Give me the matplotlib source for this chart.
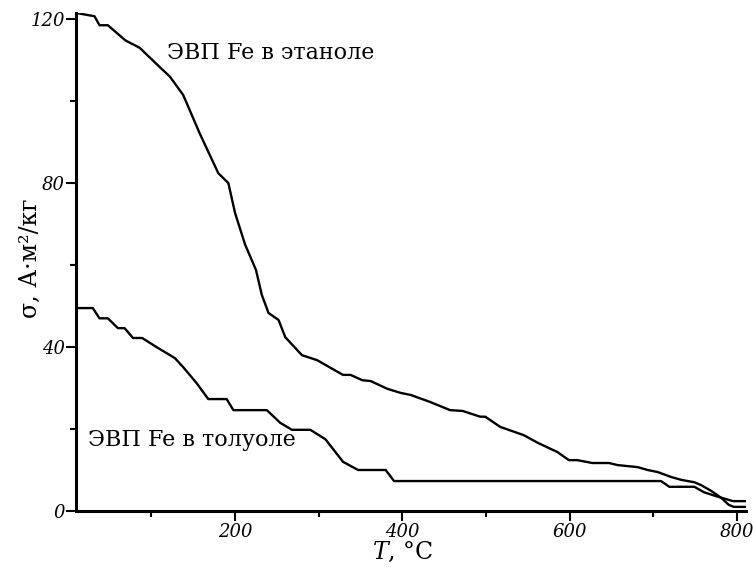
import matplotlib
matplotlib.use("Agg")
import matplotlib.pyplot as plt
from matplotlib.ticker import MultipleLocator

plt.rcParams["mathtext.fontset"] = "dejavuserif"

# Ethanol curve (T, sigma)
T_eth = [10, 32, 38, 48, 69, 86, 110, 122, 138, 158, 180, 192, 200, 212, 225, 232, 240, 252,
         260, 280, 298, 329, 338, 352, 362, 382, 398, 410, 433, 457, 472, 493, 499, 517, 545,
         562, 585, 599, 609, 627, 647, 657, 681, 693, 705, 721, 733, 749, 757, 769, 781, 790,
         796, 811]
S_eth = [121.5, 120.7, 118.5, 118.5, 114.8, 113, 108.3, 106, 101.5, 92, 82.4, 80, 72.7, 65,
         58.8, 52.7, 48.3, 46.6, 42.4, 38, 36.8, 33.2, 33.2, 31.9, 31.7, 29.8, 28.8, 28.3, 26.6,
         24.6, 24.4, 23, 23, 20.5, 18.5, 16.6, 14.4, 12.4, 12.4, 11.7, 11.7, 11.2, 10.7, 10,
         9.5, 8.3, 7.6, 7, 6.3, 4.9, 3.2, 1.5, 1, 1]

# Toluene curve (T, sigma)
T_tol = [10, 30, 38, 48, 60, 68, 78, 89, 106, 128, 138, 154, 168, 190, 198, 238, 254, 268,
         290, 308, 329, 347, 380, 390, 709, 719, 749, 760, 772, 785, 795, 811]
S_tol = [49.5, 49.5, 47, 47, 44.6, 44.6, 42.2, 42.2, 40, 37.3, 35.1, 31.2, 27.3, 27.3, 24.6,
         24.6, 21.5, 19.8, 19.8, 17.5, 12, 10, 10, 7.3, 7.3, 5.9, 5.9, 4.6, 3.8, 3.0, 2.4, 2.4]

x_ticks = [200, 400, 600, 800]
y_ticks = [0, 40, 80, 120]

fig = plt.figure(figsize=(7.53, 5.68), dpi=100)
ax = fig.add_axes([0.1009, 0.1004, 0.8898, 0.8768])

ax.plot(T_eth, S_eth, color="black", lw=1.7)
ax.plot(T_tol, S_tol, color="black", lw=1.7)

ax.set_xlim(9.9, 810.6)
ax.set_ylim(0, 121.5)

for s in ["top", "right"]:
    ax.spines[s].set_visible(False)
for s in ["left", "bottom"]:
    ax.spines[s].set_linewidth(2.2)

ax.set_xticks(x_ticks)
ax.set_yticks(y_ticks)
ax.xaxis.set_minor_locator(MultipleLocator(100))
ax.yaxis.set_minor_locator(MultipleLocator(20))
ax.tick_params(which="major", direction="out", length=7, width=1.5)
ax.tick_params(which="minor", direction="out", length=4, width=1.5)
for lab in ax.get_xticklabels() + ax.get_yticklabels():
    lab.set_fontfamily("DejaVu Serif")
    lab.set_fontstyle("italic")
    lab.set_fontsize(13)
ax.tick_params(axis="x", pad=2)
ax.tick_params(axis="y", pad=1)

ax.text(118.7, 111.7, "ЭВП Fe в этаноле", fontfamily="DejaVu Serif", fontsize=16,
        va="center", ha="left")
ax.text(24, 17.3, "ЭВП Fe в толуоле", fontfamily="DejaVu Serif", fontsize=16,
        va="center", ha="left")

fig.text(0.5347, 0.028, r"$T$, °C", fontfamily="DejaVu Serif", fontsize=17,
         ha="center", va="center")
fig.text(0.040, 0.546, "σ, А·м²/кг", fontfamily="DejaVu Serif", fontsize=17,
         rotation=90, ha="center", va="center")

fig.savefig("out.png", dpi=100)
